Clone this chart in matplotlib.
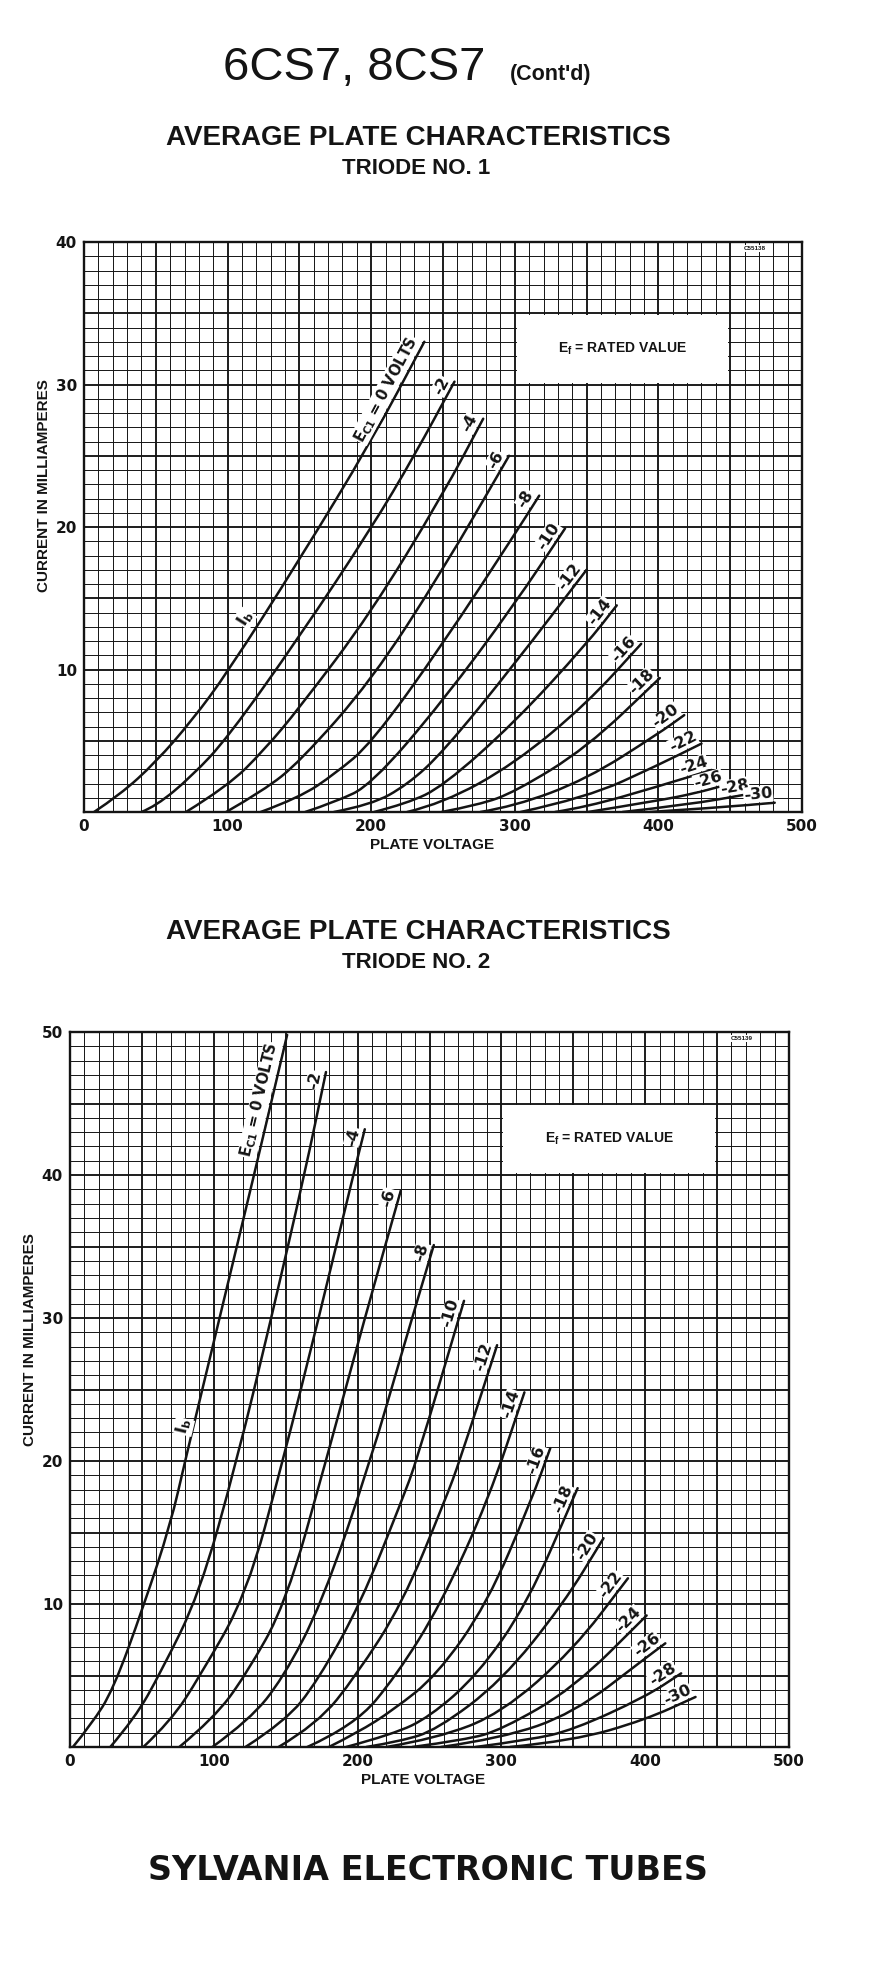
import matplotlib
matplotlib.use('Agg')
import numpy as np
import matplotlib.pyplot as plt
from matplotlib.path import Path
from matplotlib.patches import PathPatch, Rectangle

plt.rcParams['font.family'] = ['Liberation Sans', 'DejaVu Sans']
plt.rcParams['mathtext.default'] = 'regular'

# grid bias (volts) for every curve, same on both triodes
BIAS = [0, -2, -4, -6, -8, -10, -12, -14, -16, -18, -20, -22, -24, -26, -28, -30]

X_TICKS = [0, 100, 200, 300, 400, 500]
T1_Y_TICKS = [10, 20, 30, 40]
T2_Y_TICKS = [10, 20, 30, 40, 50]

# triode no. 1 : plate volts / plate mA
T1_PLATE_V = [
    [7, 25, 50, 75, 100, 150, 200, 237],
    [40, 50, 75, 100, 150, 200, 230, 258],
    [71, 100, 125, 150, 200, 250, 278],
    [99, 125, 150, 200, 250, 296],
    [123, 150, 175, 200, 250, 300, 317],
    [154, 175, 200, 250, 300, 335],
    [174, 200, 225, 250, 300, 350],
    [202, 225, 250, 300, 350, 371],
    [225, 250, 300, 350, 388],
    [249, 275, 300, 350, 401],
    [276, 300, 350, 400, 418],
    [304, 350, 400, 430],
    [328, 350, 400, 437],
    [351, 400, 425, 447],
    [375, 420, 465],
    [394, 440, 481],
]
T1_PLATE_MA = [
    [0, 1.2, 3.5, 6.4, 9.8, 17.7, 26.0, 33.0],
    [0, 0.4, 2.5, 5.2, 12.3, 19.9, 25.0, 30.2],
    [0, 1.8, 4.3, 7.3, 14.0, 22.3, 27.6],
    [0, 1.5, 3.5, 9.2, 17.0, 25.0],
    [0, 1.0, 2.7, 4.8, 11.8, 19.5, 22.2],
    [0, 0.7, 1.9, 7.8, 14.6, 19.9],
    [0, 0.5, 1.9, 4.2, 10.4, 17.0],
    [0, 0.6, 1.8, 6.3, 11.8, 14.5],
    [0, 0.6, 3.4, 7.6, 11.8],
    [0, 0.5, 1.4, 4.5, 9.4],
    [0, 0.4, 2.3, 5.5, 6.8],
    [0, 1.0, 3.3, 4.8],
    [0, 0.35, 1.8, 2.95],
    [0, 0.8, 1.3, 1.9],
    [0, 0.5, 1.3],
    [0, 0.3, 0.65],
]

# triode no. 2
T2_PLATE_V = [
    [2, 15, 30, 51, 70, 80, 104, 128, 151],
    [28, 45, 63, 90, 116, 140, 163, 178],
    [51, 70, 90, 123, 148, 173, 197, 205],
    [76, 100, 122, 150, 178, 205, 230],
    [99, 125, 148, 175, 209, 232, 253],
    [122, 150, 172, 202, 231, 241, 274],
    [145, 172, 199, 231, 261, 271, 297],
    [165, 198, 227, 258, 291, 316],
    [180, 200, 225, 255, 290, 321, 334],
    [192, 225, 250, 283, 318, 353],
    [206, 230, 255, 300, 343, 371],
    [220, 255, 300, 350, 388],
    [238, 275, 300, 350, 401],
    [258, 300, 350, 400, 414],
    [282, 320, 350, 400, 425],
    [306, 350, 400, 435],
]
T2_PLATE_MA = [
    [0, 1.6, 4.0, 9.8, 15.6, 20.0, 30.0, 40.0, 49.8],
    [0, 2.0, 5.2, 10.7, 20.0, 30.0, 40.0, 47.2],
    [0, 1.8, 4.9, 10.7, 20.0, 30.0, 40.0, 43.2],
    [0, 2.0, 5.0, 10.0, 20.0, 30.0, 38.9],
    [0, 1.9, 4.8, 10.0, 20.0, 28.0, 35.1],
    [0, 1.8, 4.6, 10.0, 17.3, 20.0, 31.2],
    [0, 1.6, 5.0, 10.0, 17.3, 20.0, 28.1],
    [0, 1.5, 5.0, 10.0, 17.3, 24.8],
    [0, 1.0, 2.6, 5.0, 10.0, 17.3, 20.9],
    [0, 0.9, 2.1, 5.0, 10.0, 18.1],
    [0, 0.4, 1.2, 4.6, 10.0, 14.6],
    [0, 0.6, 2.35, 6.8, 11.8],
    [0, 0.5, 1.2, 4.1, 9.2],
    [0, 0.6, 2.35, 6.2, 7.25],
    [0, 0.5, 1.2, 3.5, 5.15],
    [0, 0.44, 1.9, 3.5],
]

INK = '#141414'
W, H = 886, 1968


def fx(px):
    return px / W


def fy(py):
    return 1 - py / H


def smooth(xs, ys):
    # quadratic bezier through the mid points, drawn by matplotlib's Path
    verts = [(xs[0], ys[0])]
    codes = [Path.MOVETO]
    for k in range(1, len(xs) - 1):
        verts.append((xs[k], ys[k]))
        verts.append(((xs[k] + xs[k + 1]) / 2, (ys[k] + ys[k + 1]) / 2))
        codes += [Path.CURVE3, Path.CURVE3]
    verts.append((xs[-1], ys[-1]))
    codes.append(Path.LINETO)
    return Path(verts, codes)


def seg_angle(ax, p0, p1):
    a, b = ax.transData.transform([p0, p1])
    return np.degrees(np.arctan2(b[1] - a[1], b[0] - a[0]))


def draw_chart(ax, volts, ma, ymax, yticks, box_lo, code, ib_xy, ec_back):
    ax.set_xlim(0, 500)
    ax.set_ylim(0, ymax)

    for v in range(10, 500, 10):
        ax.axvline(v, color=INK, lw=1.35 if v % 50 == 0 else 0.7, zorder=1)
    for i in range(1, ymax):
        ax.axhline(i, color=INK, lw=1.35 if i % 5 == 0 else 0.7, zorder=1)

    ax.add_patch(Rectangle((301.2, box_lo + 0.12), 147.6, 4.76,
                           facecolor='white', edgecolor='none', zorder=2))
    ax.text(375, box_lo + 2.5, 'E$_f$ = RATED VALUE', ha='center', va='center',
            fontsize=10, fontweight='bold', color=INK, zorder=3)
    ax.text(467, ymax - 0.45, code, ha='center', va='center', fontsize=4.5,
            fontweight='bold', color=INK, zorder=3,
            bbox=dict(facecolor='white', edgecolor='none', pad=0.5))

    for n, (vs, cs) in enumerate(zip(volts, ma)):
        ax.add_patch(PathPatch(smooth(vs, cs), facecolor='none', edgecolor=INK,
                               lw=1.8, capstyle='round', zorder=3))
        ang = seg_angle(ax, (vs[-2], cs[-2]), (vs[-1], cs[-1]))
        ux, uy = np.cos(np.radians(ang)), np.sin(np.radians(ang))
        if n == 0:
            txt = 'E$_{C1}$ = 0 VOLTS'
            back = ec_back
            size = 10.5
        else:
            txt = str(BIAS[n])
            back = 1.0
            size = 11.5
        ax.annotate(txt, xy=(vs[-1], cs[-1]),
                    xytext=(-uy * 1.6 - ux * back, ux * 1.6 - uy * back),
                    textcoords='offset points', ha='right', va='bottom',
                    rotation=ang, rotation_mode='anchor', fontsize=size,
                    fontweight='bold', color=INK, zorder=4,
                    family=['DejaVu Sans'],
                    bbox=dict(facecolor='white', edgecolor='none', pad=0.3))

    # I_b tag on the zero-bias curve
    k = 4 if ymax == 40 else 5
    ang = seg_angle(ax, (volts[0][k], ma[0][k]), (volts[0][k + 1], ma[0][k + 1]))
    ax.text(ib_xy[0], ib_xy[1], 'I$_b$', ha='center', va='center', rotation=ang,
            rotation_mode='anchor', fontsize=11.5, fontweight='bold', color=INK,
            family=['DejaVu Sans'], zorder=4,
            bbox=dict(facecolor='white', edgecolor='none', pad=0.3))

    ax.set_xticks(X_TICKS)
    ax.set_yticks(yticks)
    ax.tick_params(length=0, pad=5, labelsize=11, colors=INK)
    for lab in ax.get_xticklabels() + ax.get_yticklabels():
        lab.set_fontweight('bold')
        lab.set_family(['DejaVu Sans'])
    for s in ax.spines.values():
        s.set_linewidth(1.7)
        s.set_color(INK)
        s.set_zorder(5)


fig = plt.figure(figsize=(W / 100, H / 100), dpi=100)

ax1 = fig.add_axes([fx(84), fy(812), fx(802 - 84), (812 - 242) / H])
draw_chart(ax1, T1_PLATE_V, T1_PLATE_MA, 40, T1_Y_TICKS, 30, 'C55138', (112, 13.6), 1.0)

ax2 = fig.add_axes([fx(70), fy(1747), fx(789 - 70), (1747 - 1032) / H])
draw_chart(ax2, T2_PLATE_V, T2_PLATE_MA, 50, T2_Y_TICKS, 40, 'C55139', (79, 22.4), 8.0)

fig.text(fx(223), fy(80), '6CS7, 8CS7', fontsize=34, ha='left', va='baseline', color=INK)
fig.text(fx(510), fy(80), "(Cont'd)", fontsize=15.5, fontweight='bold', ha='left',
         va='baseline', color=INK)

for yy, sub in [(138, 'TRIODE NO. 1'), (932, 'TRIODE NO. 2')]:
    fig.text(fx(418), fy(yy), 'AVERAGE PLATE CHARACTERISTICS', fontsize=20,
             fontweight='bold', ha='center', va='center', color=INK)
    fig.text(fx(416), fy(yy + 31), sub, fontsize=16, fontweight='bold',
             ha='center', va='center', color=INK)

fig.text(fx(44), fy(486), 'CURRENT IN MILLIAMPERES', rotation=90, fontsize=11,
         fontweight='bold', ha='center', va='center', color=INK)
fig.text(fx(30), fy(1340), 'CURRENT IN MILLIAMPERES', rotation=90, fontsize=11,
         fontweight='bold', ha='center', va='center', color=INK)
fig.text(fx(432), fy(845), 'PLATE VOLTAGE', fontsize=11, fontweight='bold',
         ha='center', va='center', color=INK)
fig.text(fx(423), fy(1780), 'PLATE VOLTAGE', fontsize=11, fontweight='bold',
         ha='center', va='center', color=INK)

fig.text(fx(428), fy(1870), 'SYLVANIA ELECTRONIC TUBES', fontsize=24,
         fontweight='bold', ha='center', va='center', color=INK,
         family=['DejaVu Sans'])

fig.savefig('out.png', dpi=100, facecolor='white')
